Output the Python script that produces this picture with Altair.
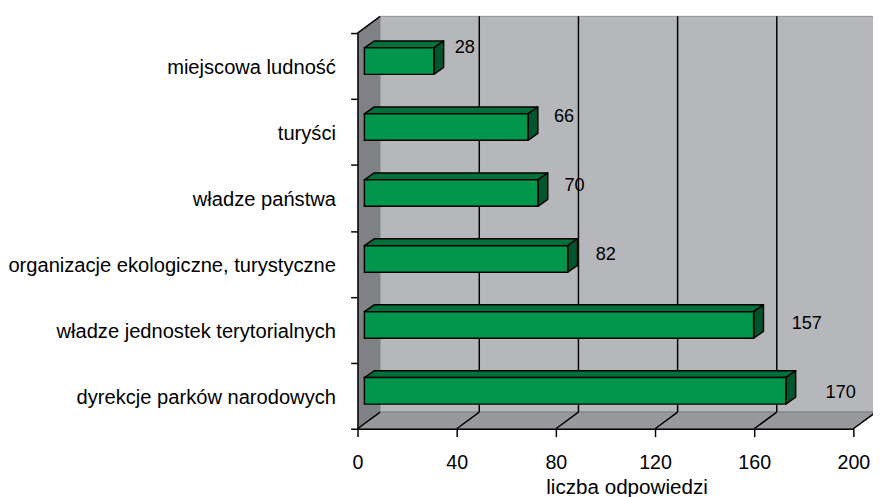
import altair as alt
import pandas as pd

# ---------------- data ----------------
categories = [
    "dyrekcje parków narodowych",
    "władze jednostek terytorialnych",
    "organizacje ekologiczne, turystyczne",
    "władze państwa",
    "turyści",
    "miejscowa ludność",
]  # bottom -> top
values = [170, 157, 82, 70, 66, 28]
x_ticks = [0, 40, 80, 120, 160, 200]
x_title = "liczba odpowiedzi"

# ---------------- geometry / style constants ----------------
W, H = 505, 403
PX_X = W / 200.0
PX_Y = H / 6.0
DX, DY = 23 / PX_X, 17 / PX_Y        # depth of the 3D box
FX, FY = 7 / PX_X, 5 / PX_Y          # offset of bar front faces
BH = 27 / PX_Y                       # bar face height
BDX, BDY = 10 / PX_X, 7 / PX_Y       # bar depth

FONT = "Liberation Sans"
GREEN_FRONT = "#00964c"
GREEN_TOP = "#00703a"
GREEN_SIDE = "#00552c"
WALL_BACK = "#b5b7ba"
WALL_LEFT = "#7f8185"
FLOOR = "#97999c"

XS = alt.Scale(domain=[0, 200], nice=False, zero=False)
YS = alt.Scale(domain=[0, 6], nice=False, zero=False)

# ---------------- tables ----------------
bars = pd.DataFrame({"name": categories, "k": list(range(len(categories))), "v": values})
bars["x0"] = FX
bars["x1"] = FX + bars["v"]
bars["yc"] = bars["k"] + 0.5 + FY
bars["y0"] = bars["yc"] - BH / 2
bars["y1"] = bars["yc"] + BH / 2

top_rows, side_rows = [], []
for rec in bars.to_dict("records"):
    n = rec["name"]
    top_rows.append({"name": n, "y": rec["y1"], "xa": rec["x0"], "xb": rec["x1"]})
    top_rows.append({"name": n, "y": rec["y1"] + BDY, "xa": rec["x0"] + BDX, "xb": rec["x1"] + BDX})
    side_rows.append({"name": n, "x": rec["x1"], "ya": rec["y0"], "yb": rec["y1"]})
    side_rows.append({"name": n, "x": rec["x1"] + BDX, "ya": rec["y0"] + BDY, "yb": rec["y1"] + BDY})
top_df = pd.DataFrame(top_rows)
side_df = pd.DataFrame(side_rows)

back_df = pd.DataFrame([{"xa": DX, "xb": 200 + DX, "ya": DY, "yb": 6 + DY}])
left_df = pd.DataFrame([{"x": 0, "ya": 0, "yb": 6}, {"x": DX, "ya": DY, "yb": 6 + DY}])
floor_df = pd.DataFrame([{"y": 0, "xa": 0, "xb": 200}, {"y": DY, "xa": DX, "xb": 200 + DX}])
back_grid = pd.DataFrame({"x": [v + DX for v in x_ticks[1:-1]], "ya": DY, "yb": 6 + DY})
floor_grid = pd.DataFrame({"xa": x_ticks, "xb": [v + DX for v in x_ticks], "ya": 0.0, "yb": DY})
edge_df = pd.DataFrame([{"xa": 0, "xb": DX, "ya": 6, "yb": 6 + DY}])

x_axis = alt.Axis(
    values=x_ticks, title=x_title, grid=False, zindex=1,
    domainColor="black", domainWidth=1.5, tickColor="black", tickWidth=1.5, tickSize=8,
    labelFont=FONT, labelFontSize=20, labelColor="black", labelBaseline="alphabetic",
    labelPadding=32, labelFlush=False,
    titleFont=FONT, titleFontSize=21, titleFontWeight="normal", titleColor="black",
    titleBaseline="alphabetic", titleX=274, titleY=66, titleAlign="center",
)
y_axis = alt.Axis(
    values=list(range(7)), labels=False, title=None, grid=False, zindex=1,
    domainColor="black", domainWidth=1.5, tickColor="black", tickWidth=1.5, tickSize=7,
)


def X(field):
    return alt.X(field, scale=XS, axis=x_axis)


def Y(field):
    return alt.Y(field, scale=YS, axis=y_axis)


back = alt.Chart(back_df).mark_rect(fill=WALL_BACK, stroke="#8f9194", strokeWidth=1).encode(
    x=X("xa:Q"), x2="xb:Q", y=Y("ya:Q"), y2="yb:Q",
)
left = alt.Chart(left_df).mark_area(orient="vertical", fill=WALL_LEFT, opacity=1).encode(
    x=X("x:Q"), y=Y("ya:Q"), y2="yb:Q",
)
floor = alt.Chart(floor_df).mark_area(orient="horizontal", fill=FLOOR, opacity=1,
                                      stroke="#7a7c80", strokeWidth=1).encode(
    y=Y("y:Q"), x=X("xa:Q"), x2="xb:Q",
)
bgrid = alt.Chart(back_grid).mark_rule(color="black", strokeWidth=1.5).encode(
    x=X("x:Q"), y=Y("ya:Q"), y2="yb:Q",
)
fgrid = alt.Chart(floor_grid).mark_rule(color="black", strokeWidth=1.5).encode(
    x=X("xa:Q"), x2="xb:Q", y=Y("ya:Q"), y2="yb:Q",
)
edge = alt.Chart(edge_df).mark_rule(color="black", strokeWidth=1.5).encode(
    x=X("xa:Q"), x2="xb:Q", y=Y("ya:Q"), y2="yb:Q",
)

top = alt.Chart(top_df).mark_area(orient="horizontal", fill=GREEN_TOP, opacity=1,
                                  stroke="black", strokeWidth=1.5, strokeJoin="round").encode(
    y=Y("y:Q"), x=X("xa:Q"), x2="xb:Q", detail="name:N",
)
side = alt.Chart(side_df).mark_area(orient="vertical", fill=GREEN_SIDE, opacity=1,
                                    stroke="black", strokeWidth=1.5, strokeJoin="round").encode(
    x=X("x:Q"), y=Y("ya:Q"), y2="yb:Q", detail="name:N",
)
front = alt.Chart(bars).mark_rect(fill=GREEN_FRONT, stroke="black", strokeWidth=1.5).encode(
    x=X("x0:Q"), x2="x1:Q", y=Y("y0:Q"), y2="y1:Q",
)

value_labels = alt.Chart(bars).transform_calculate(
    lx="datum.v * 1.0535 + 9.7", ly="0.551 + 1.048 * datum.k"
).mark_text(align="left", baseline="middle", font=FONT, fontSize=18.5, color="black").encode(
    x=X("lx:Q"), y=Y("ly:Q"), text="v:Q",
)

cat_labels = alt.Chart(bars).transform_calculate(
    zx="0", cy="datum.k + 0.5"
).mark_text(align="right", baseline="middle", dx=-22, dy=2, font=FONT, fontSize=20.5,
            color="black").encode(
    x=X("zx:Q"), y=Y("cy:Q"), text="name:N",
)

chart = alt.layer(
    back, left, floor, bgrid, fgrid, edge, top, side, front, value_labels, cat_labels
).properties(
    width=W, height=H,
    padding={"left": 356, "top": 21, "right": 20, "bottom": 65},
    autosize=alt.AutoSizeParams(type="none"),
).configure_view(stroke=None).configure(background="white")

chart.save("out.html", embed_options={"renderer": "svg", "actions": False})
